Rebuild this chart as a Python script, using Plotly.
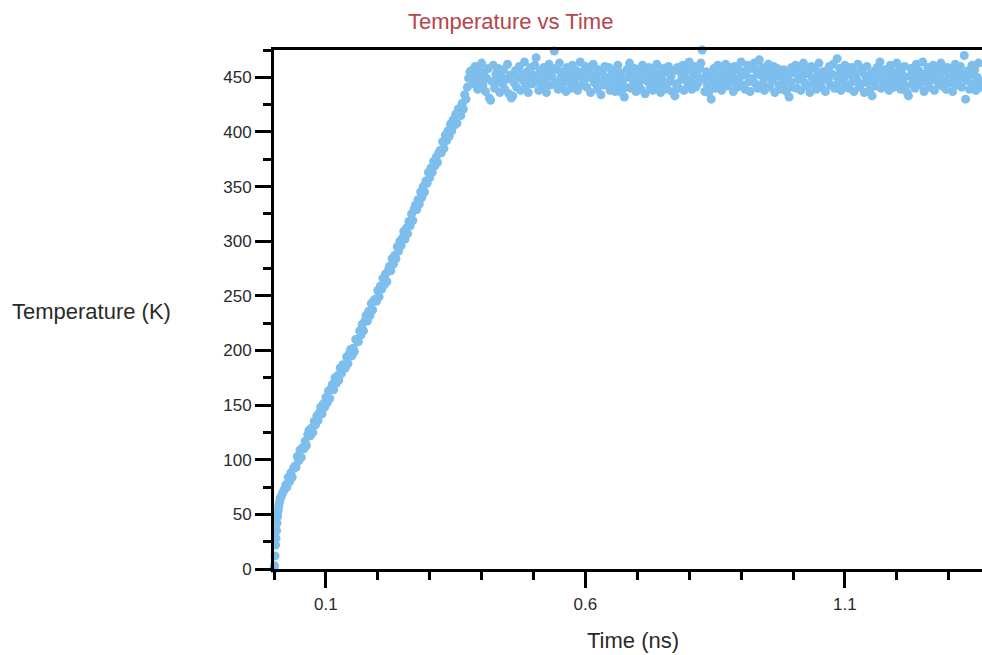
import plotly.graph_objects as go

# ---- data ----
# start of the run (dense early samples)
time_start_ns = [0.000, 0.001, 0.002, 0.003, 0.004, 0.005, 0.006, 0.007, 0.008,
                 0.009, 0.010, 0.011, 0.012, 0.014, 0.016, 0.018, 0.020]
temp_start_k = [0, 3, 12, 22, 28, 35, 42, 48, 53,
                57, 60, 62, 65, 66, 69, 71, 73]

# remaining samples, 8 per row
time_main_ns = [
    0.0225, 0.025, 0.0275, 0.030, 0.0325, 0.035, 0.0375, 0.040,
    0.0425, 0.045, 0.0475, 0.050, 0.0525, 0.055, 0.0575, 0.060,
    0.0625, 0.065, 0.0675, 0.070, 0.0725, 0.075, 0.0775, 0.080,
    0.0825, 0.085, 0.0875, 0.090, 0.0925, 0.095, 0.0975, 0.100,
    0.1025, 0.105, 0.1075, 0.110, 0.1125, 0.115, 0.1175, 0.120,
    0.1225, 0.125, 0.1275, 0.130, 0.1325, 0.135, 0.1375, 0.140,
    0.1425, 0.145, 0.1475, 0.150, 0.1525, 0.155, 0.1575, 0.160,
    0.1625, 0.165, 0.1675, 0.170, 0.1725, 0.175, 0.1775, 0.180,
    0.1825, 0.185, 0.1875, 0.190, 0.1925, 0.195, 0.1975, 0.200,
    0.2025, 0.205, 0.2075, 0.210, 0.2125, 0.215, 0.2175, 0.220,
    0.2225, 0.225, 0.2275, 0.230, 0.2325, 0.235, 0.2375, 0.240,
    0.2425, 0.245, 0.2475, 0.250, 0.2525, 0.255, 0.2575, 0.260,
    0.2625, 0.265, 0.2675, 0.270, 0.2725, 0.275, 0.2775, 0.280,
    0.2825, 0.285, 0.2875, 0.290, 0.2925, 0.295, 0.2975, 0.300,
    0.3025, 0.305, 0.3075, 0.310, 0.3125, 0.315, 0.3175, 0.320,
    0.3225, 0.325, 0.3275, 0.330, 0.3325, 0.335, 0.3375, 0.340,
    0.3425, 0.345, 0.3475, 0.350, 0.3525, 0.355, 0.3575, 0.360,
    0.3625, 0.365, 0.3675, 0.370, 0.3725, 0.375, 0.3775, 0.380,
    0.3825, 0.385, 0.3875, 0.390, 0.3925, 0.395, 0.3975, 0.400,
    0.4025, 0.405, 0.4075, 0.410, 0.4125, 0.415, 0.4175, 0.420,
    0.4225, 0.425, 0.4275, 0.430, 0.4325, 0.435, 0.4375, 0.440,
    0.4425, 0.445, 0.4475, 0.450, 0.4525, 0.455, 0.4575, 0.460,
    0.4625, 0.465, 0.4675, 0.470, 0.4725, 0.475, 0.4775, 0.480,
    0.4825, 0.485, 0.4875, 0.490, 0.4925, 0.495, 0.4975, 0.500,
    0.5025, 0.505, 0.5075, 0.510, 0.5125, 0.515, 0.5175, 0.520,
    0.5225, 0.525, 0.5275, 0.530, 0.5325, 0.535, 0.5375, 0.540,
    0.5425, 0.545, 0.5475, 0.550, 0.5525, 0.555, 0.5575, 0.560,
    0.5625, 0.565, 0.5675, 0.570, 0.5725, 0.575, 0.5775, 0.580,
    0.5825, 0.585, 0.5875, 0.590, 0.5925, 0.595, 0.5975, 0.600,
    0.6025, 0.605, 0.6075, 0.610, 0.6125, 0.615, 0.6175, 0.620,
    0.6225, 0.625, 0.6275, 0.630, 0.6325, 0.635, 0.6375, 0.640,
    0.6425, 0.645, 0.6475, 0.650, 0.6525, 0.655, 0.6575, 0.660,
    0.6625, 0.665, 0.6675, 0.670, 0.6725, 0.675, 0.6775, 0.680,
    0.6825, 0.685, 0.6875, 0.690, 0.6925, 0.695, 0.6975, 0.700,
    0.7025, 0.705, 0.7075, 0.710, 0.7125, 0.715, 0.7175, 0.720,
    0.7225, 0.725, 0.7275, 0.730, 0.7325, 0.735, 0.7375, 0.740,
    0.7425, 0.745, 0.7475, 0.750, 0.7525, 0.755, 0.7575, 0.760,
    0.7625, 0.765, 0.7675, 0.770, 0.7725, 0.775, 0.7775, 0.780,
    0.7825, 0.785, 0.7875, 0.790, 0.7925, 0.795, 0.7975, 0.800,
    0.8025, 0.805, 0.8075, 0.810, 0.8125, 0.815, 0.8175, 0.820,
    0.8225, 0.825, 0.8275, 0.830, 0.8325, 0.835, 0.8375, 0.840,
    0.8425, 0.845, 0.8475, 0.850, 0.8525, 0.855, 0.8575, 0.860,
    0.8625, 0.865, 0.8675, 0.870, 0.8725, 0.875, 0.8775, 0.880,
    0.8825, 0.885, 0.8875, 0.890, 0.8925, 0.895, 0.8975, 0.900,
    0.9025, 0.905, 0.9075, 0.910, 0.9125, 0.915, 0.9175, 0.920,
    0.9225, 0.925, 0.9275, 0.930, 0.9325, 0.935, 0.9375, 0.940,
    0.9425, 0.945, 0.9475, 0.950, 0.9525, 0.955, 0.9575, 0.960,
    0.9625, 0.965, 0.9675, 0.970, 0.9725, 0.975, 0.9775, 0.980,
    0.9825, 0.985, 0.9875, 0.990, 0.9925, 0.995, 0.9975, 1.000,
    1.0025, 1.005, 1.0075, 1.010, 1.0125, 1.015, 1.0175, 1.020,
    1.0225, 1.025, 1.0275, 1.030, 1.0325, 1.035, 1.0375, 1.040,
    1.0425, 1.045, 1.0475, 1.050, 1.0525, 1.055, 1.0575, 1.060,
    1.0625, 1.065, 1.0675, 1.070, 1.0725, 1.075, 1.0775, 1.080,
    1.0825, 1.085, 1.0875, 1.090, 1.0925, 1.095, 1.0975, 1.100,
    1.1025, 1.105, 1.1075, 1.110, 1.1125, 1.115, 1.1175, 1.120,
    1.1225, 1.125, 1.1275, 1.130, 1.1325, 1.135, 1.1375, 1.140,
    1.1425, 1.145, 1.1475, 1.150, 1.1525, 1.155, 1.1575, 1.160,
    1.1625, 1.165, 1.1675, 1.170, 1.1725, 1.175, 1.1775, 1.180,
    1.1825, 1.185, 1.1875, 1.190, 1.1925, 1.195, 1.1975, 1.200,
    1.2025, 1.205, 1.2075, 1.210, 1.2125, 1.215, 1.2175, 1.220,
    1.2225, 1.225, 1.2275, 1.230, 1.2325, 1.235, 1.2375, 1.240,
    1.2425, 1.245, 1.2475, 1.250, 1.2525, 1.255, 1.2575, 1.260,
    1.2625, 1.265, 1.2675, 1.270, 1.2725, 1.275, 1.2775, 1.280,
    1.2825, 1.285, 1.2875, 1.290, 1.2925, 1.295, 1.2975, 1.300,
    1.3025, 1.305, 1.3075, 1.310, 1.3125, 1.315, 1.3175, 1.320,
    1.3225, 1.325, 1.3275, 1.330, 1.3325, 1.335, 1.3375, 1.340,
    1.3425, 1.345, 1.3475, 1.350, 1.3525, 1.355, 1.3575, 1.360,
    1.3625, 1.365, 1.3675, 1.370, 1.3725, 1.375, 1.3775, 1.380,
]

temp_main_k = [
    77, 75, 84, 80, 88, 84, 92, 94,
    93, 103, 99, 109, 102, 111, 110, 117,
    113, 123, 127, 122, 129, 125, 135, 132,
    140, 136, 143, 148, 142, 151, 148, 157,
    152, 163, 156, 165, 169, 164, 175, 170,
    177, 173, 184, 179, 187, 186, 184, 194,
    188, 197, 201, 195, 202, 199, 210, 210,
    208, 218, 214, 224, 218, 227, 232, 227,
    236, 232, 243, 237, 246, 247, 245, 255,
    249, 259, 256, 266, 260, 270, 263, 273,
    277, 273, 284, 279, 287, 284, 295, 291,
    300, 296, 303, 309, 302, 312, 307, 318,
    314, 325, 319, 329, 333, 329, 338, 334,
    345, 340, 350, 345, 355, 353, 363, 358,
    367, 363, 373, 369, 377, 372, 381, 383,
    381, 391, 385, 397, 392, 401, 396, 407,
    401, 411, 406, 416, 408, 421, 418, 415,
    426, 421, 434, 430, 441, 449, 455, 456,
    452, 444, 460, 447, 439, 456, 450, 463,
    443, 455, 437, 449, 458, 431, 429, 446,
    461, 440, 453, 447, 458, 436, 451, 444,
    457, 439, 448, 462, 435, 452, 431, 433,
    445, 456, 441, 450, 460, 438, 453, 447,
    464, 442, 455, 436, 449, 459, 444, 452,
    461, 468, 446, 438, 456, 450, 441, 459,
    447, 436, 454, 462, 443, 451, 458, 474,
    445, 457, 439, 463, 450, 442, 455, 448,
    437, 459, 446, 453, 440, 461, 449, 444,
    456, 438, 451, 464, 443, 455, 447, 460,
    441, 452, 458, 436, 449, 462, 445, 453,
    439, 457, 447, 434, 455, 443, 460, 450,
    446, 459, 438, 452, 444, 456, 437, 449,
    461, 442, 454, 436, 448, 432, 441, 457,
    450, 463, 440, 453, 445, 458, 437, 451,
    444, 456, 439, 461, 448, 435, 454, 446,
    459, 441, 452, 438, 457, 447, 462, 443,
    453, 436, 449, 458, 442, 455, 439, 460,
    446, 451, 437, 456, 433, 444, 459, 440,
    455, 448, 461, 438, 450, 457, 443, 464,
    447, 439, 454, 460, 441, 452, 445, 458,
    463, 475, 449, 437, 455, 443, 436, 451,
    430, 446, 458, 440, 453, 461, 444, 449,
    438, 456, 447, 462, 442, 451, 459, 445,
    453, 437, 460, 448, 441, 457, 450, 464,
    443, 455, 439, 452, 461, 446, 437, 458,
    449, 463, 444, 456, 440, 466, 452, 459,
    445, 438, 457, 450, 462, 441, 454, 447,
    460, 436, 451, 458, 443, 455, 439, 449,
    457, 444, 437, 452, 432, 446, 459, 441,
    454, 461, 440, 448, 456, 438, 451, 463,
    445, 457, 442, 453, 436, 460, 449, 444,
    458, 439, 452, 463, 446, 441, 455, 450,
    437, 456, 447, 460, 443, 453, 462, 440,
    451, 467, 445, 458, 438, 454, 449, 461,
    443, 456, 440, 452, 459, 446, 437, 454,
    448, 462, 441, 455, 444, 458, 436, 451,
    460, 445, 438, 453, 433, 447, 456, 442,
    459, 449, 464, 440, 454, 446, 457, 443,
    452, 438, 461, 447, 455, 441, 450, 463,
    445, 457, 439, 453, 448, 460, 442, 436,
    433, 451, 458, 444, 455, 440, 462, 449,
    456, 443, 450, 464, 437, 453, 446, 459,
    441, 455, 448, 461, 438, 452, 457, 444,
    450, 463, 442, 456, 447, 439, 459, 453,
    445, 458, 437, 451, 462, 443, 455, 448,
    460, 441, 453, 470, 430, 447, 456, 439,
    452, 461, 444, 457, 438, 450, 463, 446,
    441, 455, 449, 436, 458, 447, 453, 442,
]

time_ns = time_start_ns + time_main_ns
temperature_k = temp_start_k + temp_main_k
assert len(time_ns) == len(temperature_k)

x_tick_values = [0.1, 0.6, 1.1]
x_tick_labels = ["0.1", "0.6", "1.1"]
y_tick_values = [0, 50, 100, 150, 200, 250, 300, 350, 400, 450]

title_text = "Temperature vs Time"
x_title_text = "Time (ns)"
y_title_text = "Temperature (K)"

FONT = "Arial, 'Liberation Sans', sans-serif"
TEXT_COLOR = "#2a2a2a"

fig = go.Figure()
fig.add_trace(go.Scatter(
    x=time_ns, y=temperature_k, mode="markers",
    marker=dict(size=9, color="rgb(125,190,237)", line=dict(width=0)),
    cliponaxis=False, showlegend=False, hoverinfo="x+y",
))

PLOT_W = 708  # plot area width in px (runs to the right window edge)

fig.update_layout(
    width=982, height=655,
    margin=dict(l=274, r=0, t=50, b=86),
    paper_bgcolor="white", plot_bgcolor="white",
    font=dict(family=FONT, size=17, color=TEXT_COLOR),
    xaxis=dict(
        range=[0, PLOT_W / 519], showgrid=False, zeroline=False,
        showline=True, linecolor="black", linewidth=3, mirror=True,
        ticks="outside", ticklen=16, tickwidth=2.5, tickcolor="black",
        tickvals=x_tick_values, ticktext=x_tick_labels,
        ticklabelstandoff=2,
        tickfont=dict(size=17, family=FONT, color=TEXT_COLOR),
        minor=dict(dtick=0.1, tick0=0.0, ticks="outside", ticklen=8,
                   tickwidth=2.5, tickcolor="black", showgrid=False),
    ),
    yaxis=dict(
        range=[0, 475], showgrid=False, zeroline=False,
        showline=True, linecolor="black", linewidth=3, mirror=False,
        ticks="outside", ticklen=16, tickwidth=2.5, tickcolor="black",
        tickvals=y_tick_values,
        tickfont=dict(size=17, family=FONT, color=TEXT_COLOR),
        minor=dict(dtick=25, tick0=0, ticks="outside", ticklen=8,
                   tickwidth=2.5, tickcolor="black", showgrid=False),
    ),
    annotations=[
        dict(text=title_text, xref="paper", yref="paper",
             x=(510 - 274) / PLOT_W, y=1 + (50 - 22) / 519,
             xanchor="center", yanchor="middle", showarrow=False,
             font=dict(size=22, family=FONT, color="#B5454B")),
        dict(text=x_title_text, xref="paper", yref="paper",
             x=(633 - 274) / PLOT_W, y=-(640 - 569) / 519,
             xanchor="center", yanchor="middle", showarrow=False,
             font=dict(size=22, family=FONT, color=TEXT_COLOR)),
        dict(text=y_title_text, xref="paper", yref="paper",
             x=-(274 - 10) / PLOT_W, y=(569 - 311) / 519,
             xanchor="left", yanchor="middle", showarrow=False,
             font=dict(size=22, family=FONT, color=TEXT_COLOR)),
    ],
)

# remove the default page margin so the 982x655 figure fills the window exactly
fig.write_html(
    "out.html",
    config={"displayModeBar": False},
    post_script="document.body.style.margin='0';document.body.style.overflow='hidden';",
)
